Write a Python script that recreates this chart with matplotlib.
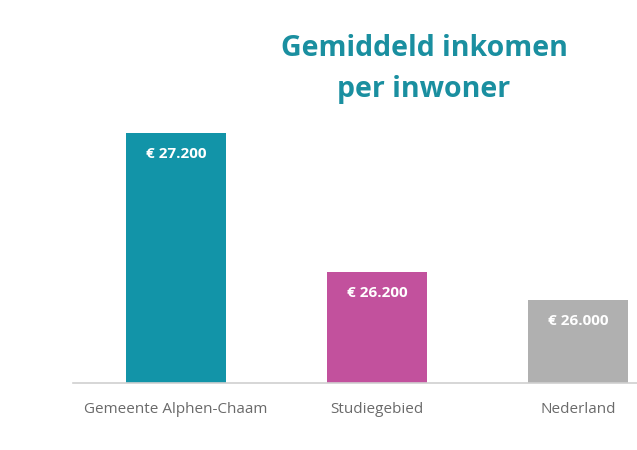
import matplotlib
matplotlib.use("Agg")
import matplotlib.pyplot as plt

categories = ["Gemeente Alphen-Chaam", "Studiegebied", "Nederland"]
values = [27200, 26200, 26000]
value_labels = ["€ 27.200", "€ 26.200", "€ 26.000"]
colors = ["#1294A8", "#C2519D", "#B0B0B0"]
title = "Gemiddeld inkomen\nper inwoner"

fig = plt.figure(figsize=(6.37, 4.5), dpi=100)
ax = fig.add_axes([73/637, 67/450, 1 - 73/637, 263/450])

x = list(range(len(categories)))
ax.bar(x, values, width=0.5, color=colors, zorder=2)
ax.set_xlim(-0.512, 2.294)
ax.set_ylim(25400, 27292)

for xi, v, lab in zip(x, values, value_labels):
    ax.annotate(lab, (xi, v), xytext=(0, -21), textcoords="offset pixels",
                ha="center", va="center", color="white", fontsize=11,
                fontweight="bold", family="Open Sans")

for s in ["top", "right", "left"]:
    ax.spines[s].set_visible(False)
ax.spines["bottom"].set_color("#D0D0D0")
ax.spines["bottom"].set_linewidth(1.2)
ax.set_yticks([])
ax.set_xticks(x)
ax.set_xticklabels(categories, color="#6A6A6A", fontsize=11, family="Open Sans")
ax.tick_params(axis="x", length=0, pad=14)

fig.text(424/637, 1 - 69/450, title, ha="center", va="center",
         color="#1A8FA0", fontsize=20.5, fontweight="bold", family="Open Sans",
         linespacing=1.52)

fig.savefig("out.png", dpi=100)
